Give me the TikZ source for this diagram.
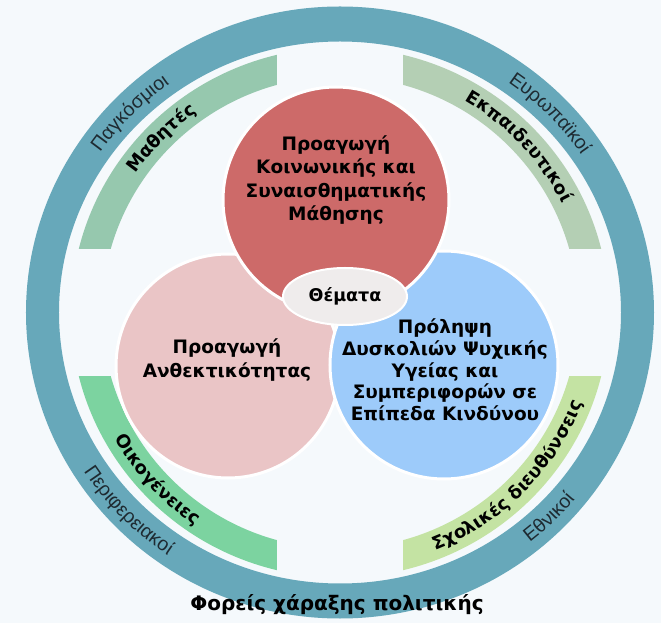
\documentclass[tikz,border=0pt]{standalone}
\usepackage{fontspec}
\setmainfont{DejaVu Sans}
\newfontfamily\ringfont{Liberation Sans}
\usetikzlibrary{shapes.geometric}
\usetikzlibrary{decorations.text}
\definecolor{bgC}{HTML}{F5F9FC}
\definecolor{ringC}{HTML}{67A8BA}
\definecolor{ringtxt}{HTML}{1E2A31}
\definecolor{redC}{HTML}{CD6A69}
\definecolor{pinkC}{HTML}{EAC5C6}
\definecolor{blueC}{HTML}{9DCBFA}
\definecolor{themeC}{HTML}{EFECEC}
\definecolor{bandTL}{HTML}{96C8AE}
\definecolor{bandTR}{HTML}{B4CFB4}
\definecolor{bandBL}{HTML}{7CD3A0}
\definecolor{bandBR}{HTML}{C4E3A3}

\begin{document}
\begin{tikzpicture}
		[x=1pt, y=1pt,
		disc/.style = {circle, draw=white, line width=3pt, inner sep=0pt, minimum size=#1},
		topic/.style = {align=center, font=\bfseries\fontsize{18.5}{#1}\selectfont},
		ringtext/.style = {decorate, decoration={text along path, text align=center,
			text={|\ringfont\fontsize{19.5}{19.5}\selectfont\color{ringtxt}|#1}}},
		bandtext/.style = {decorate, decoration={text along path, text align=center,
			text={|\bfseries\fontsize{18}{18}\selectfont|#1}}}]
	\fill[bgC] (-340,-310.5) rectangle (321,312.5);
	\useasboundingbox (-340,-310.5) rectangle (321,312.5);
	\fill[ringC, even odd rule] (0,0) ellipse [x radius=314, y radius=306]
		(0,0) ellipse [x radius=281, y radius=271];
	\foreach \sx/\sy/\col in {-1/1/bandTL, 1/1/bandTR, -1/-1/bandBL, 1/-1/bandBR} {
		\begin{scope}
			\clip (\sx*63,\sy*64) rectangle (\sx*330,\sy*330);
			\fill[\col, even odd rule] (0,0) ellipse [x radius=269, y radius=265]
				(0,0) ellipse [x radius=238, y radius=236];
		\end{scope}
	}
	\path[ringtext=Παγκόσμιοι] (176:291 and 282)
		arc[start angle=176, end angle=96, x radius=291, y radius=282];
	\path[ringtext=Ευρωπαϊκοί] (84:291 and 282)
		arc[start angle=84, end angle=4, x radius=291, y radius=282];
	\path[ringtext=Περιφερειακοί] (183.7:304 and 295)
		arc[start angle=183.7, end angle=263.7, x radius=304, y radius=295];
	\path[ringtext=Εθνικοί] (-85:304 and 295)
		arc[start angle=-85, end angle=-5, x radius=304, y radius=295];
	\path[bandtext=Μαθητές] (175.5:248 and 245)
		arc[start angle=175.5, end angle=95.5, x radius=248, y radius=245];
	\path[bandtext=Εκπαιδευτικοί] (83:248 and 245)
		arc[start angle=83, end angle=3, x radius=248, y radius=245];
	\path[bandtext=Οικογένειες] (182.7:259 and 256)
		arc[start angle=182.7, end angle=262.7, x radius=259, y radius=256];
	\path[bandtext=Σχολικές διευθύνσεις] (-84.5:259 and 256)
		arc[start angle=-84.5, end angle=-4.5, x radius=259, y radius=256];
	\node[disc=224, fill=pinkC] (resilience) at (-112,-53.5) {};
	\node[disc=228, fill=blueC] (prevention) at (104,-52.5) {};
	\node[disc=226, fill=redC] (social) at (-4,112.5) {};
	\node[topic=23.5] (socialtxt) at (-4,132.5) {Προαγωγή\\Κοινωνικής και\\Συναισθηματικής\\Μάθησης};
	\node[topic=24] (resiliencetxt) at (-113,-47.5) {Προαγωγή\\Ανθεκτικότητας};
	\node[topic=21.7] (preventiontxt) at (105,-57.5) {Πρόληψη\\Δυσκολιών Ψυχικής\\Υγείας και\\Συμπεριφορών σε\\Επίπεδα Κινδύνου};
	\node[ellipse, draw=white, line width=2pt, fill=themeC, minimum width=124, minimum height=57,
		font=\bfseries\fontsize{17.5}{17.5}\selectfont] (themes) at (5,16) {Θέματα};
	\node[font=\bfseries\fontsize{20}{20}\selectfont] (policy) at (-3,-292.5) {Φορείς χάραξης πολιτικής};
\end{tikzpicture}
\end{document}
